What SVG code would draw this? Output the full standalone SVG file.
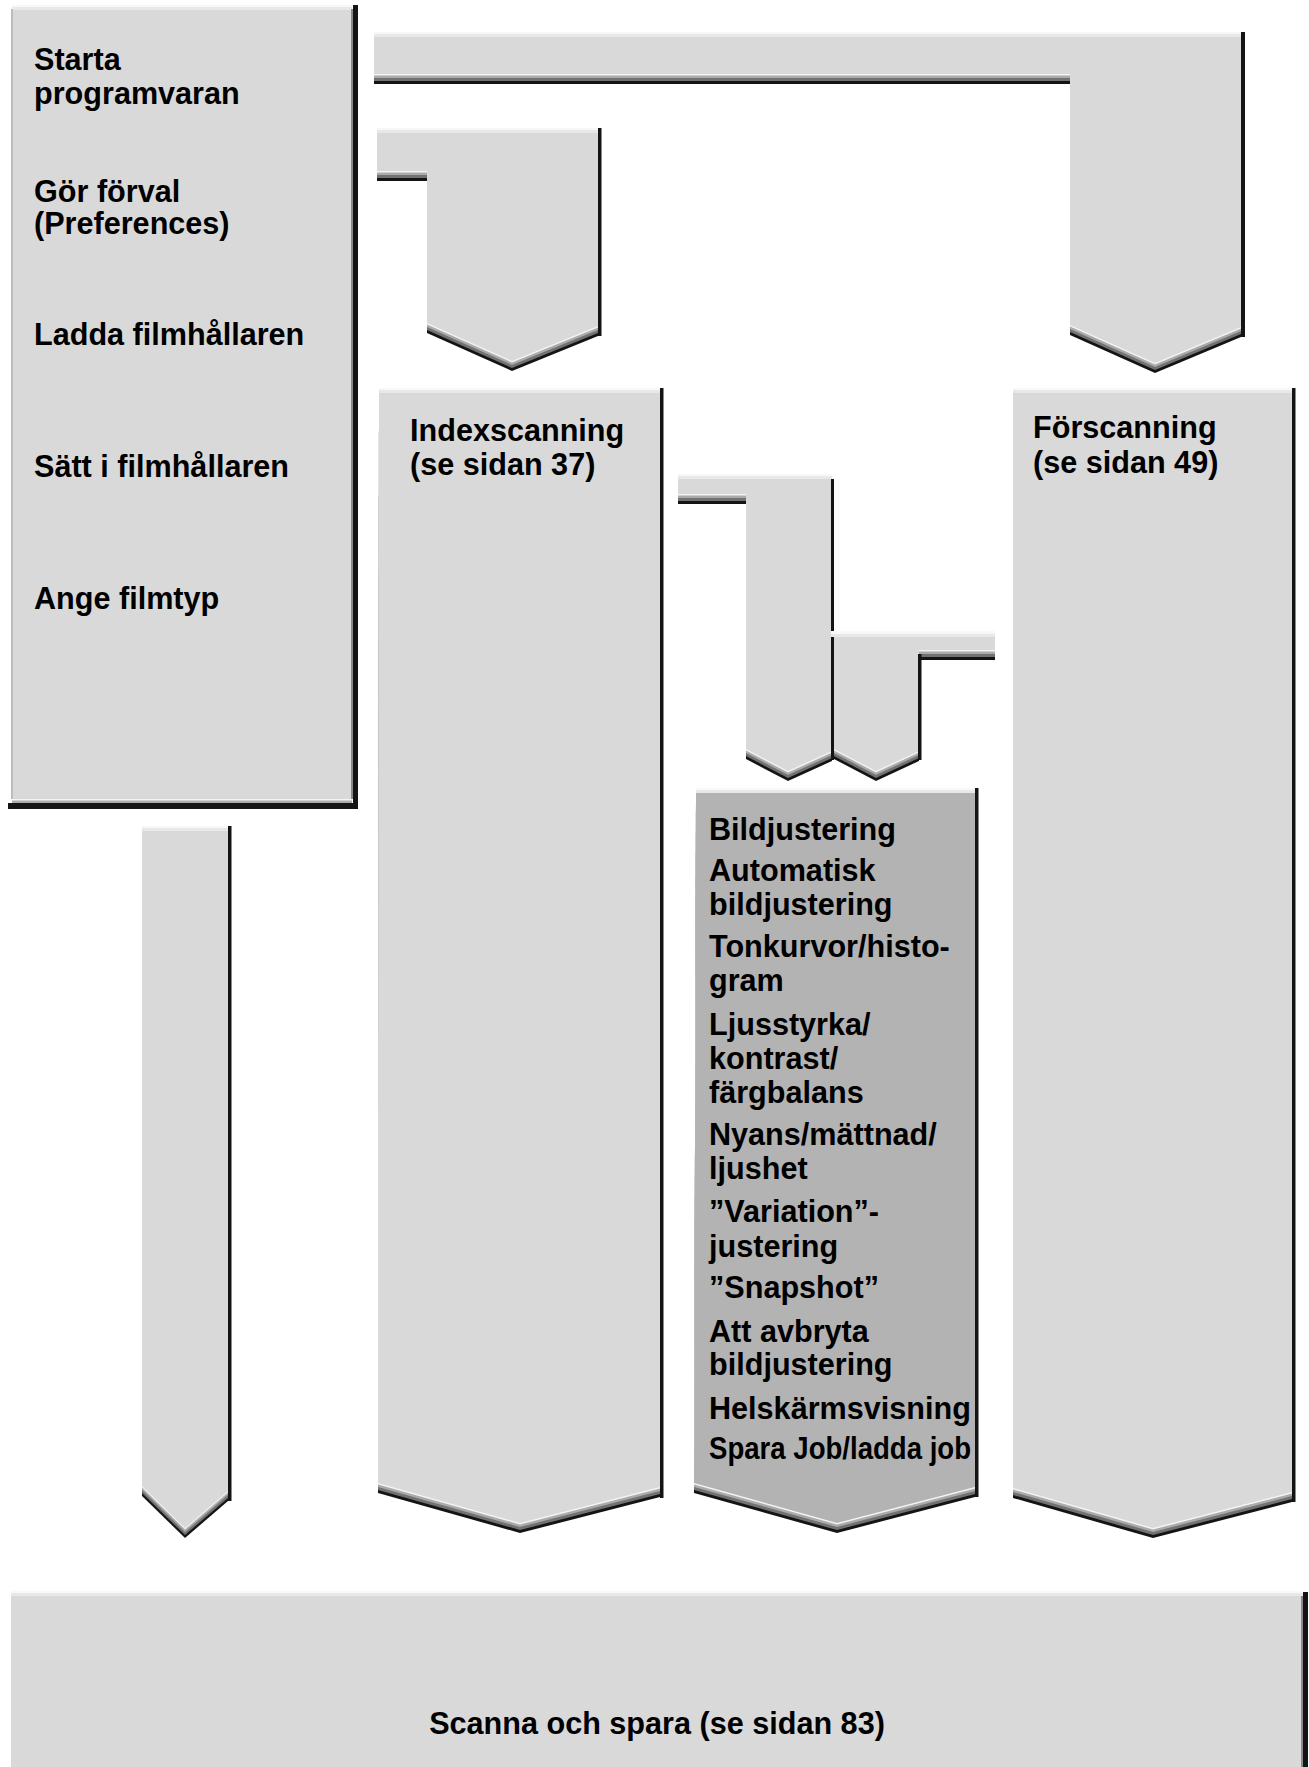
<svg xmlns="http://www.w3.org/2000/svg" xmlns:xlink="http://www.w3.org/1999/xlink" width="1309" height="1767" viewBox="0 0 1309 1767">
<style>
.fill{fill:#d9d9d9}
.dark{fill:#b3b3b3}
.s1{fill:#141414}
.s2{fill:#727272}
.s3{fill:#ababab}
.s4{fill:#f4f4f4}
.edge{fill:#141414}
.hl1{fill:#f8f8f8}
.hl2{fill:#e8e8e8}
.lft{fill:#bdbdbd}
.inr{fill:#8a8a8a}
text{font-family:"Liberation Sans",Arial,Helvetica,sans-serif;font-weight:bold;font-size:30.6px;fill:#000}
</style>
<defs>
<polygon id="p-top" points="374,36 1241,36 1241,327 1155,363 1070,325 1070,74 374,74"/>
<polygon id="p-idx" points="377,132 598,132 598,326 512,361 427,323 427,171 377,171"/>
<polygon id="p-left" points="142,830 228,830 228,1491 185,1528 142,1486"/>
<polygon id="p-m1" points="678,478 832,478 832,751 788,771 746,749 746,494 678,494"/>
<polygon id="p-m2" points="834,636 995,636 995,650 919,650 919,751 876,771 834,749"/>
<polygon id="p-start" points="12,9 352,9 352,799 12,799"/>
<polygon id="p-index" points="379,392 660,392 660,1487 520,1523 378,1483"/>
<polygon id="p-pre" points="1013,392 1292,392 1292,1492 1153,1528 1013,1488"/>
<polygon id="p-adj" points="696,792 975,792 975,1487 837,1523 694,1483"/>
</defs>

<g id="connectors">
  <g id="c-top">
    <use xlink:href="#p-top" class="s1" transform="translate(0,10)"/>
    <use xlink:href="#p-top" class="s2" transform="translate(0,7)"/>
    <use xlink:href="#p-top" class="s3" transform="translate(0,4)"/>
    <use xlink:href="#p-top" class="s4" transform="translate(0,1.5)"/>
    <use xlink:href="#p-top" class="fill"/>
    <rect class="hl1" x="374" y="32" width="867" height="2"/>
    <rect class="hl2" x="374" y="34" width="867" height="3"/>
    <rect class="edge" x="1241" y="32" width="4" height="305"/>
  </g>
  <g id="c-idx">
    <use xlink:href="#p-idx" class="s1" transform="translate(0,10)"/>
    <use xlink:href="#p-idx" class="s2" transform="translate(0,7)"/>
    <use xlink:href="#p-idx" class="s3" transform="translate(0,4)"/>
    <use xlink:href="#p-idx" class="s4" transform="translate(0,1.5)"/>
    <use xlink:href="#p-idx" class="fill"/>
    <rect class="hl1" x="377" y="128" width="221" height="2"/>
    <rect class="hl2" x="377" y="130" width="221" height="3"/>
    <rect class="edge" x="598" y="128" width="3.5" height="208"/>
  </g>
  <g id="c-left">
    <use xlink:href="#p-left" class="s1" transform="translate(0,10)"/>
    <use xlink:href="#p-left" class="s2" transform="translate(0,7)"/>
    <use xlink:href="#p-left" class="s3" transform="translate(0,4)"/>
    <use xlink:href="#p-left" class="s4" transform="translate(0,1.5)"/>
    <use xlink:href="#p-left" class="fill"/>
    <rect class="hl1" x="142" y="826" width="86" height="2"/>
    <rect class="hl2" x="142" y="828" width="86" height="3"/>
    <rect class="edge" x="228" y="826" width="3.5" height="675"/>
  </g>
  <g id="c-m1">
    <use xlink:href="#p-m1" class="s1" transform="translate(0,10)"/>
    <use xlink:href="#p-m1" class="s2" transform="translate(0,7)"/>
    <use xlink:href="#p-m1" class="s3" transform="translate(0,4)"/>
    <use xlink:href="#p-m1" class="s4" transform="translate(0,1.5)"/>
    <use xlink:href="#p-m1" class="fill"/>
    <rect class="hl1" x="678" y="474" width="154" height="2"/>
    <rect class="hl2" x="678" y="476" width="154" height="3"/>
    <rect class="edge" x="831" y="479" width="3" height="281"/>
  </g>
  <g id="c-m2">
    <use xlink:href="#p-m2" class="s1" transform="translate(0,10)"/>
    <use xlink:href="#p-m2" class="s2" transform="translate(0,7)"/>
    <use xlink:href="#p-m2" class="s3" transform="translate(0,4)"/>
    <use xlink:href="#p-m2" class="s4" transform="translate(0,1.5)"/>
    <use xlink:href="#p-m2" class="fill"/>
    <rect class="hl1" x="831" y="631" width="164" height="3"/>
    <rect class="hl2" x="831" y="634" width="164" height="3"/>
    <rect class="edge" x="918" y="654" width="3.5" height="106"/>
  </g>
</g>

<g id="node-start">
  <use xlink:href="#p-start" class="s1" transform="translate(0,10)"/>
  <use xlink:href="#p-start" class="s2" transform="translate(0,7)"/>
  <use xlink:href="#p-start" class="s3" transform="translate(0,4)"/>
  <use xlink:href="#p-start" class="s4" transform="translate(0,1.5)"/>
  <use xlink:href="#p-start" class="fill"/>
  <rect class="s1" x="8" y="803" width="350" height="6"/>
  <rect class="hl1" x="12" y="5" width="340" height="2"/>
  <rect class="hl2" x="12" y="7" width="340" height="3"/>
  <rect class="lft" x="11" y="9" width="2" height="790"/>
  <rect class="inr" x="351" y="9" width="2" height="790"/>
  <rect class="edge" x="353" y="5" width="5" height="804"/>
  <text x="34" y="70">Starta</text>
  <text x="34" y="104">programvaran</text>
  <text x="34" y="202">Gör förval</text>
  <text x="34" y="234">(Preferences)</text>
  <text x="34" y="345">Ladda filmhållaren</text>
  <text x="34" y="477">Sätt i filmhållaren</text>
  <text x="34" y="609">Ange filmtyp</text>
</g>

<g id="node-index">
  <use xlink:href="#p-index" class="s1" transform="translate(0,10)"/>
  <use xlink:href="#p-index" class="s2" transform="translate(0,7)"/>
  <use xlink:href="#p-index" class="s3" transform="translate(0,4)"/>
  <use xlink:href="#p-index" class="s4" transform="translate(0,1.5)"/>
  <use xlink:href="#p-index" class="fill"/>
  <rect class="hl1" x="379" y="388" width="281" height="2"/>
  <rect class="hl2" x="379" y="390" width="281" height="3"/>
  <rect class="edge" x="660" y="388" width="3.5" height="1110"/>
  <text x="410" y="441">Indexscanning</text>
  <text x="410" y="475">(se sidan 37)</text>
</g>

<g id="node-pre">
  <use xlink:href="#p-pre" class="s1" transform="translate(0,10)"/>
  <use xlink:href="#p-pre" class="s2" transform="translate(0,7)"/>
  <use xlink:href="#p-pre" class="s3" transform="translate(0,4)"/>
  <use xlink:href="#p-pre" class="s4" transform="translate(0,1.5)"/>
  <use xlink:href="#p-pre" class="fill"/>
  <rect class="hl1" x="1013" y="388" width="279" height="2"/>
  <rect class="hl2" x="1013" y="390" width="279" height="3"/>
  <rect class="edge" x="1292" y="388" width="3.5" height="1114"/>
  <text x="1033" y="438">Förscanning</text>
  <text x="1033" y="473">(se sidan 49)</text>
</g>

<g id="node-adj">
  <use xlink:href="#p-adj" class="s1" transform="translate(0,10)"/>
  <use xlink:href="#p-adj" class="s2" transform="translate(0,7)"/>
  <use xlink:href="#p-adj" class="s3" transform="translate(0,4)"/>
  <use xlink:href="#p-adj" class="s4" transform="translate(0,1.5)"/>
  <use xlink:href="#p-adj" class="dark"/>
  <rect class="hl1" x="696" y="788" width="279" height="2"/>
  <rect class="hl2" x="696" y="790" width="279" height="3"/>
  <rect class="edge" x="975" y="788" width="3.5" height="709"/>
  <text x="709" y="840">Bildjustering</text>
  <text x="709" y="881">Automatisk</text>
  <text x="709" y="915">bildjustering</text>
  <text x="709" y="957">Tonkurvor/histo-</text>
  <text x="709" y="991">gram</text>
  <text x="709" y="1035">Ljusstyrka/</text>
  <text x="709" y="1069">kontrast/</text>
  <text x="709" y="1103">färgbalans</text>
  <text x="709" y="1145">Nyans/mättnad/</text>
  <text x="709" y="1179">ljushet</text>
  <text x="709" y="1222">”Variation”-</text>
  <text x="709" y="1257">justering</text>
  <text x="709" y="1298">”Snapshot”</text>
  <text x="709" y="1342">Att avbryta</text>
  <text x="709" y="1375">bildjustering</text>
  <text x="709" y="1419">Helskärmsvisning</text>
  <text x="709" y="1459" textLength="262" lengthAdjust="spacingAndGlyphs">Spara Job/ladda job</text>
</g>

<g id="node-scan">
  <rect class="hl1" x="11" y="1591" width="1292" height="2"/>
  <rect class="hl2" x="11" y="1593" width="1292" height="3"/>
  <rect class="fill" x="11" y="1596" width="1292" height="171"/>
  <rect class="inr" x="1301" y="1596" width="2" height="171"/>
  <rect class="edge" x="1303" y="1592" width="5" height="175"/>
  <text x="657" y="1734" text-anchor="middle">Scanna och spara (se sidan 83)</text>
</g>
</svg>
